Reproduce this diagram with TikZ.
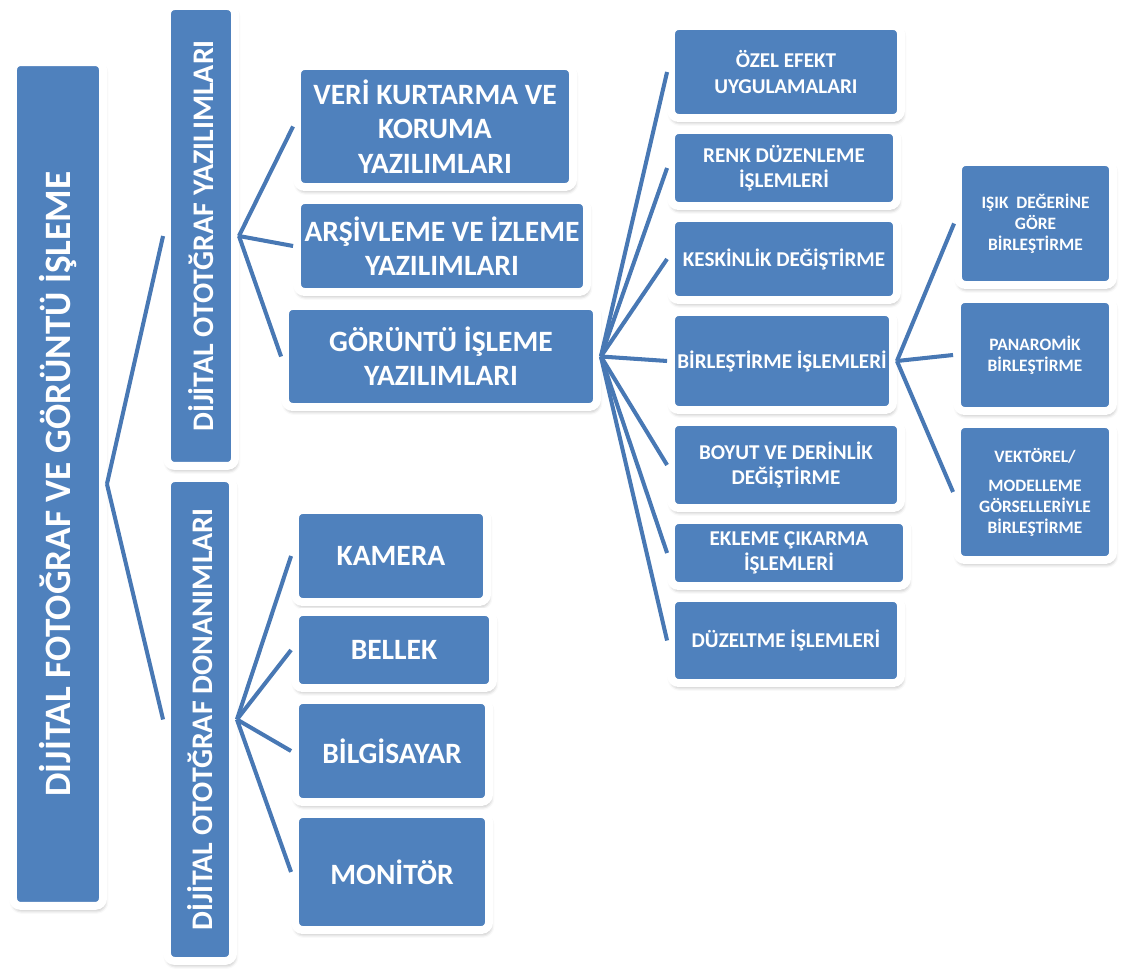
\documentclass[tikz,border=0pt]{standalone}
\usepackage{fontspec}
\setmainfont{Carlito}
\usepackage{tikz}
\usetikzlibrary{shadows.blur,  % gölgeler
                positioning}
\definecolor{kutumavi}{RGB}{79,129,189}
\definecolor{baglanti}{RGB}{72,120,180}

\tikzset{
  kutu/.style={draw=white, fill=kutumavi, line width=4.5pt, rounded corners=0.15cm,
               text=white, align=center, inner sep=1pt,
               blur shadow={shadow xshift=0.6pt, shadow yshift=-2pt,
                            shadow blur radius=2.5pt, shadow opacity=40}},
  ikinci/.style={kutu, font=\fontsize{16.8}{19.5}\selectfont\bfseries},
  ucuncu/.style={kutu, font=\fontsize{12}{14.4}\selectfont\bfseries},
  dorduncu/.style={kutu, font=\fontsize{9.9}{11.8}\selectfont\bfseries},
  dal/.style={draw=baglanti, line width=2.3pt}
}

\begin{document}
\begin{tikzpicture}[x=0.02cm, y=-0.02cm]
\useasboundingbox (0,0) rectangle (1130,969);

% ana kutu ve iki dal
\node[kutu, font=\fontsize{21.2}{25}\selectfont\bfseries, minimum width=1.8cm, minimum height=16.88cm]
     (kok) at (58,484) {\rotatebox{90}{DİJİTAL FOTOĞRAF VE GÖRÜNTÜ İŞLEME}};
\node[kutu, font=\fontsize{17}{20}\selectfont\bfseries, minimum width=1.36cm, minimum height=9.2cm]
     (yazilim) at (201,236) {\rotatebox{90}{DİJİTAL OTOTĞRAF YAZILIMLARI}};
\node[kutu, font=\fontsize{17}{20}\selectfont\bfseries, minimum width=1.32cm, minimum height=9.66cm]
     (donanim) at (200,719.5) {\rotatebox{90}{DİJİTAL OTOTĞRAF DONANIMLARI}};

% yazilimlar
\node[ikinci, minimum width=5.52cm, minimum height=2.42cm]
     (veri) at (435,126.5) {VERİ KURTARMA VE\\KORUMA\\YAZILIMLARI};
\node[ikinci, minimum width=5.8cm, minimum height=1.84cm]
     (arsiv) at (442,246) {ARŞİVLEME VE İZLEME\\YAZILIMLARI};
\node[ikinci, minimum width=6.24cm, minimum height=2.02cm]
     (goruntu) at (441,356.5) {GÖRÜNTÜ İŞLEME\\YAZILIMLARI};

% donanimlar
\node[ikinci, minimum width=3.84cm, minimum height=1.84cm] (kamera) at (391,556) {KAMERA};
\node[ikinci, minimum width=3.96cm, minimum height=1.52cm] (bellek) at (394,650) {BELLEK};
\node[ikinci, minimum width=3.88cm, minimum height=2.04cm] (bilgisayar) at (392,751) {BİLGİSAYAR};
\node[ikinci, minimum width=3.88cm, minimum height=2.32cm] (monitor) at (392,872) {MONİTÖR};

% goruntu isleme alt kutulari
\node[ucuncu, minimum width=4.6cm, minimum height=1.84cm] (efekt) at (786,72) {ÖZEL EFEKT\\UYGULAMALARI};
\node[ucuncu, minimum width=4.52cm, minimum height=1.52cm] (renk) at (784,168) {RENK DÜZENLEME\\İŞLEMLERİ};
\node[ucuncu, minimum width=4.52cm, minimum height=1.64cm] (keskin) at (784,259) {KESKİNLİK DEĞİŞTİRME};
\node[ucuncu, minimum width=4.44cm, minimum height=1.96cm] (birles) at (782,361) {BİRLEŞTİRME İŞLEMLERİ};
\node[ucuncu, minimum width=4.6cm, minimum height=1.72cm] (boyut) at (786,465) {BOYUT VE DERİNLİK\\DEĞİŞTİRME};
\node[ucuncu, minimum width=4.72cm, minimum height=1.32cm] (ekleme) at (789,553) {EKLEME ÇIKARMA\\İŞLEMLERİ};
\node[ucuncu, minimum width=4.6cm, minimum height=1.7cm] (duzeltme) at (786,640.5) {DÜZELTME İŞLEMLERİ};

% birlestirme alt kutulari
\node[dorduncu, minimum width=3.1cm, minimum height=2.46cm] (isik) at (1035.5,223.5) {IŞIK~ DEĞERİNE\\GÖRE\\BİRLEŞTİRME};
\node[dorduncu, minimum width=3.12cm, minimum height=2.24cm] (panorama) at (1035,355) {PANAROMİK\\BİRLEŞTİRME};
\node[dorduncu, minimum width=3.12cm, minimum height=2.72cm] (vektor) at (1035,492) {VEKTÖREL/\\[0.18cm]MODELLEME\\GÖRSELLERİYLE\\BİRLEŞTİRME};

% baglantilar
\foreach \c in {yazilim,donanim} \draw[dal] (kok.east) -- (\c.west);
\foreach \c in {veri,arsiv,goruntu} \draw[dal] (yazilim.east) -- (\c.west);
\foreach \c in {kamera,bellek,bilgisayar,monitor} \draw[dal] (donanim.east) -- (\c.west);
\foreach \c in {efekt,renk,keskin,birles,boyut,ekleme,duzeltme} \draw[dal] (goruntu.east) -- (\c.west);
\foreach \c in {isik,panorama,vektor} \draw[dal] (birles.east) -- (\c.west);
\end{tikzpicture}
\end{document}
